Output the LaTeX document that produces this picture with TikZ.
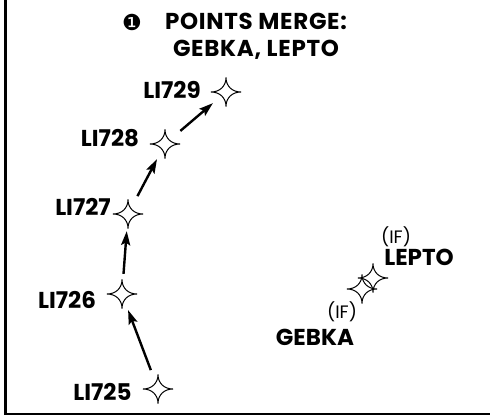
\documentclass[tikz,border=0pt]{standalone}
\usepackage{fontspec}
\setmainfont{Poppins}
\newfontfamily\dingfont{DejaVu Sans}
\usetikzlibrary{arrows.meta}
\tikzset{
  wpt/.style={circle,minimum size=32pt,inner sep=0pt,
    path picture={
      \draw[line width=1pt,shift={(path picture bounding box.center)}]
        (0pt,14.5pt) .. controls (0pt,6pt) and (6pt,0pt) .. (15pt,0pt)
        .. controls (6pt,0pt) and (0pt,-6pt) .. (0pt,-14.5pt)
        .. controls (0pt,-6pt) and (-6pt,0pt) .. (-15pt,0pt)
        .. controls (-6pt,0pt) and (0pt,6pt) .. cycle;
    }},
  leg/.style={line width=2.4pt,-{Stealth[length=14pt,width=9pt,inset=2.5pt]},
    shorten <=4pt,shorten >=1pt},
  wptname/.style={font=\bfseries\fontsize{23}{26}\selectfont,inner sep=0pt},
  iflabel/.style={font=\fontsize{18}{20}\selectfont,inner sep=0pt}
}
\begin{document}
\begin{tikzpicture}[x=1pt,y=-1pt]
\useasboundingbox (0,0) rectangle (490,417);
\draw[line width=3pt](5.5,0)--(5.5,414.5); %frame
\draw[line width=2pt](4,414)--(490,414);
%title
\node[inner sep=0pt,font=\dingfont\fontsize{22}{24}\selectfont] (num) at (132,22) {❶};
\node[font=\bfseries\fontsize{23}{27}\selectfont\addfontfeature{LetterSpace=3},align=center,inner sep=0pt] (title) at (256,36) {POINTS MERGE:\\GEBKA, LEPTO};
%waypoints
\node[wpt] (w725) at (158,389) {};
\node[wpt] (w726) at (122,294) {};
\node[wpt] (w727) at (128,214) {};
\node[wpt] (w728) at (165,144) {};
\node[wpt] (w729) at (226,92) {};
\node[wpt] (gebka) at (362,289) {};
\node[wpt] (lepto) at (373,278) {};
%legs
\draw[leg](w725)--(w726);
\draw[leg](w726)--(w727);
\draw[leg](w727)--(w728);
\draw[leg](w728)--(w729);
%labels
\node[wptname] (t725) at (102.5,392) {LI725};
\node[wptname] (t726) at (67,300) {LI726};
\node[wptname] (t727) at (83,207) {LI727};
\node[wptname] (t728) at (110,138) {LI728};
\node[wptname] (t729) at (172,90) {LI729};
\node[iflabel] (iflepto) at (396,237) {(IF)};
\node[wptname] (tlepto) at (419,257) {LEPTO};
\node[iflabel] (ifgebka) at (342,312) {(IF)};
\node[wptname] (tgebka) at (315,337) {GEBKA};
\end{tikzpicture}
\end{document}
